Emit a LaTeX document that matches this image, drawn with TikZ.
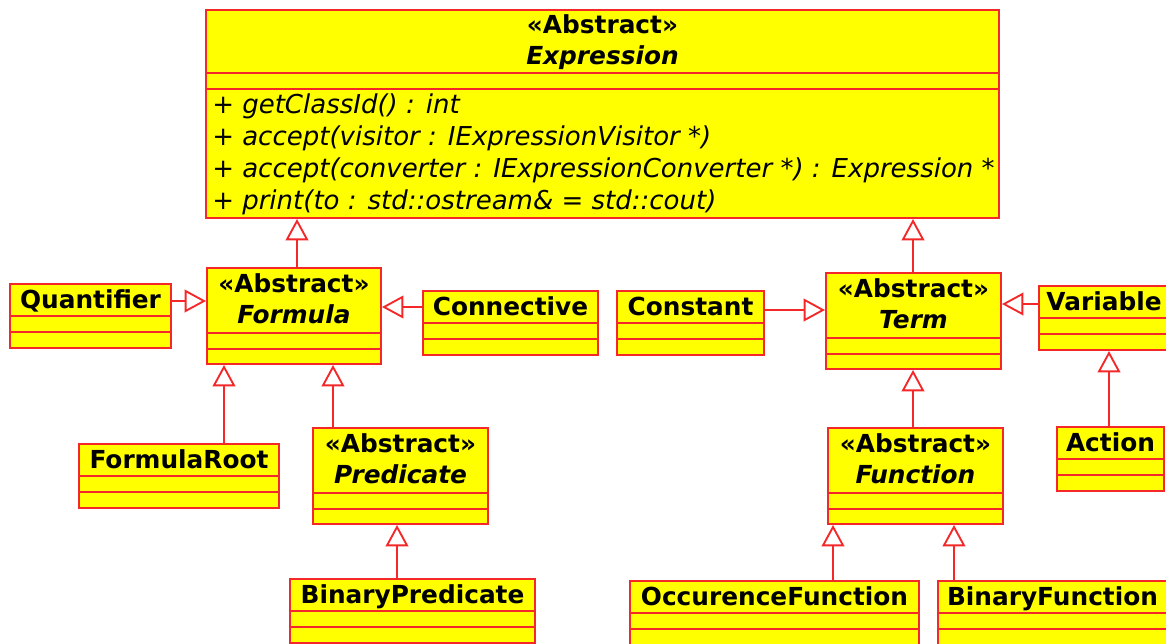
\documentclass[tikz,border=0pt]{standalone}
\usepackage{fontspec}
\setmainfont{DejaVu Sans}
\usetikzlibrary{arrows.meta,fit}

\definecolor{umlfill}{HTML}{FFFF00}
\definecolor{umlline}{HTML}{F42828}

\tikzset{
  clsbox/.style={draw=umlline, fill=umlfill, line width=1.5pt, inner sep=0pt},
  clssep/.style={draw=umlline, line width=1.5pt},
  clsname/.style={font=\fontsize{18.6}{20}\selectfont\bfseries, anchor=base, inner sep=0pt},
  clsabs/.style={font=\fontsize{18.6}{20}\selectfont\bfseries\itshape, anchor=base, inner sep=0pt},
  clsop/.style={font=\fontsize{19.5}{21}\selectfont\itshape, anchor=base west, inner sep=0pt},
  inherit/.style={draw=umlline, line width=1.4pt,
    -{Triangle[open, length=16pt, width=17pt, line width=1.4pt]}},
}

% plain class: name compartment plus two empty compartments
% #1 node name, #2 left, #3 top, #4 right, #5 class name
\newcommand\plainclass[5]{%
  \node[clsbox, fit={(#2,#3) (#4,{#3+64})}] (#1) {};
  \draw[clssep] (#2,{#3+32}) -- (#4,{#3+32});
  \draw[clssep] (#2,{#3+48}) -- (#4,{#3+48});
  \node[clsname] (#1-name) at ({(#2+#4)/2},{#3+24}) {#5};
}

% abstract class: stereotype, italic name, two empty compartments
\newcommand\abstractclass[5]{%
  \node[clsbox, fit={(#2,#3) (#4,{#3+96})}] (#1) {};
  \draw[clssep] (#2,{#3+65}) -- (#4,{#3+65});
  \draw[clssep] (#2,{#3+81}) -- (#4,{#3+81});
  \node[clsname] (#1-stereo) at ({(#2+#4)/2},{#3+24}) {«Abstract»};
  \node[clsabs] (#1-name) at ({(#2+#4)/2},{#3+55}) {#5};
}

\begin{document}
\begin{tikzpicture}[x=0.75pt, y=-0.75pt]
\useasboundingbox (0,0) rectangle (1166,643);
\fill[white] (0,0) rectangle (1166,643);
\clip (0,0) rectangle (1166,643);

% root class with its operations
\node[clsbox, fit={(206,10) (999,218)}] (expr) {};
\draw[clssep] (206,73) -- (999,73);
\draw[clssep] (206,89) -- (999,89);
\node[clsname] (expr-stereo) at (602.5,33) {«Abstract»};
\node[clsabs] (expr-name) at (602.5,64) {Expression};
\node[clsop] (op1) at (212,113) {+ getClassId() : int};
\node[clsop] (op2) at (212,145.5) {+ accept(visitor : IExpressionVisitor *)};
\node[clsop] (op3) at (212,177.5) {+ accept(converter : IExpressionConverter *) : Expression *};
\node[clsop] (op4) at (212,209) {+ print(to : std::ostream\& = std::cout)};

% formula branch
\abstractclass{formula}{207}{268}{381}{Formula}
\plainclass{quant}{10}{284}{171}{Quantifier}
\plainclass{conn}{423}{291}{598}{Connective}
\plainclass{froot}{79}{444}{279}{FormulaRoot}
\abstractclass{pred}{313}{428}{488}{Predicate}
\plainclass{bpred}{290}{579}{535}{BinaryPredicate}

% term branch
\abstractclass{term}{826}{273}{1001}{Term}
\plainclass{const}{617}{291}{764}{Constant}
\plainclass{var}{1039}{286}{1169}{Variable}
\plainclass{action}{1057}{427}{1164}{Action}
\abstractclass{func}{828}{428}{1003}{Function}
\plainclass{ofunc}{630}{581}{919}{OccurenceFunction}
\plainclass{bfunc}{938}{581}{1167}{BinaryFunction}

% generalisations
\draw[inherit] (297,0 |- formula.north) -- (297,0 |- expr.south);
\draw[inherit] (913,0 |- term.north) -- (913,0 |- expr.south);
\draw[inherit] (quant.east |- 0,301) -- (formula.west |- 0,301);
\draw[inherit] (conn.west |- 0,307) -- (formula.east |- 0,307);
\draw[inherit] (224,0 |- froot.north) -- (224,0 |- formula.south);
\draw[inherit] (333,0 |- pred.north) -- (333,0 |- formula.south);
\draw[inherit] (397,0 |- bpred.north) -- (397,0 |- pred.south);
\draw[inherit] (const.east |- 0,310) -- (term.west |- 0,310);
\draw[inherit] (var.west |- 0,304) -- (term.east |- 0,304);
\draw[inherit] (1109,0 |- action.north) -- (1109,0 |- var.south);
\draw[inherit] (913,0 |- func.north) -- (913,0 |- term.south);
\draw[inherit] (833,0 |- ofunc.north) -- (833,0 |- func.south);
\draw[inherit] (954,0 |- bfunc.north) -- (954,0 |- func.south);
\end{tikzpicture}
\end{document}
